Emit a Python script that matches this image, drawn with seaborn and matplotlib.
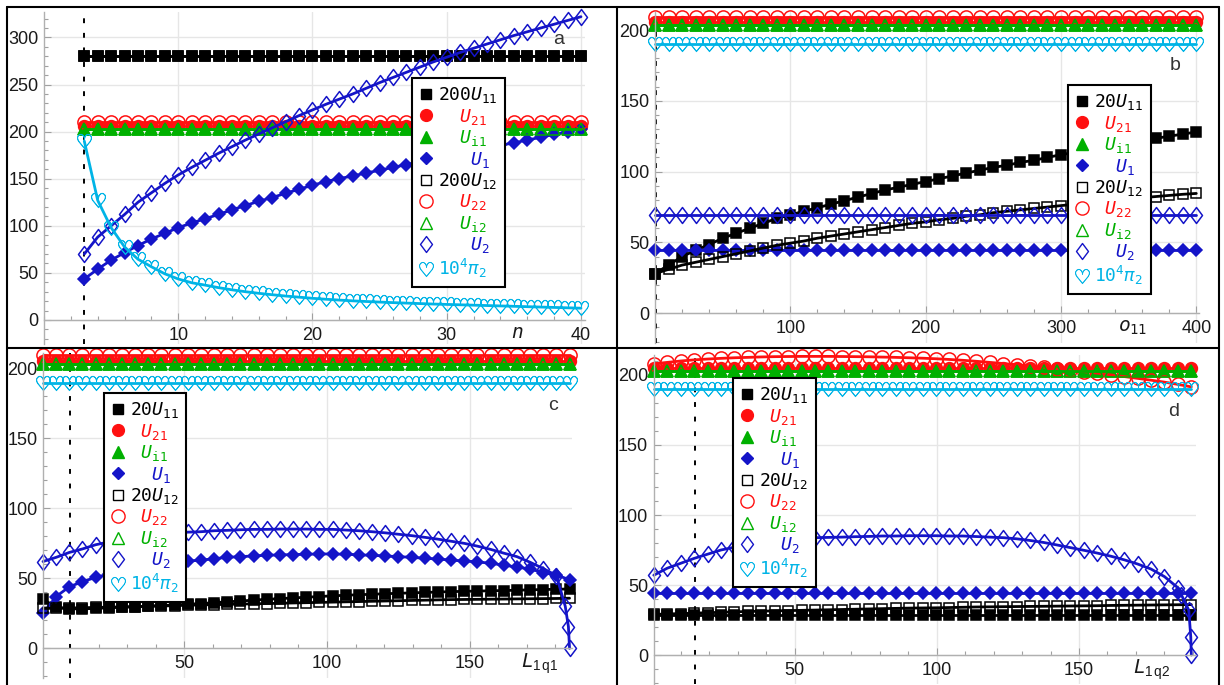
import numpy as np
import matplotlib
matplotlib.use("Agg")
import matplotlib.pyplot as plt
import seaborn as sns
from matplotlib.lines import Line2D
from matplotlib.path import Path
from matplotlib.ticker import MultipleLocator

# -----------------------------
# Data
# -----------------------------
# panel a : parameter n
n_a = list(range(3, 41))
a_200U11 = 280
a_200U12 = 280
a_U21 = 206
a_U22 = 210
a_Ui1 = 203
a_Ui2 = 203
a_U1 = [43.5, 54, 63.5, 71.5, 79, 86, 92, 98, 103, 107.5,
        112, 117, 121.5, 126, 130, 134.5, 138.8, 143, 147, 150,
        153, 156, 159, 162, 165, 168, 171, 174, 177, 180,
        183, 185.5, 188, 191, 194, 197, 200, 203]
a_U2 = [70, 88, 100, 112, 125, 135, 145, 154, 162, 169.5,
        177, 184, 191, 197.5, 204, 210.5, 217, 223, 229, 234.5,
        240, 246, 252, 257.5, 263, 268.5, 274, 279, 284, 288.5,
        293, 297.5, 302, 306, 310, 314, 318, 322]
a_pi2 = [190, 127, 98, 77.5, 64.5, 56.5, 49, 43.5, 39.5, 37,
         34.3, 32, 30, 28.3, 26.8, 25.4, 24.2, 23, 22, 21.1,
         20.3, 19.6, 19, 18.4, 17.9, 17.4, 16.9, 16.5, 16.1, 15.7,
         15.3, 14.9, 14.5, 14.1, 13.7, 13.3, 12.9, 12.5]

# panel b : parameter o11
o_b = list(range(0, 401, 10))
b_20U11 = [28, 34, 40, 44.5, 48.5, 53, 56.5, 60, 63.5, 67,
           69.5, 72, 74.5, 77, 79.5, 82, 84.5, 87, 89, 91,
           93, 95, 97, 99, 101, 103, 104.5, 106.5, 108, 110,
           112, 113.5, 115, 117, 118.5, 120, 122, 123.5, 125, 126.5,
           128]
b_20U12 = [28, 31, 34, 36, 38, 40, 42, 44, 46, 48,
           49.5, 51, 53, 54.5, 56, 57.5, 59, 60.5, 62, 63.5,
           64.5, 66, 67, 68.5, 69.5, 71, 72, 73, 74, 75,
           76, 77, 78, 79, 80, 80.8, 81.6, 82.4, 83.2, 84,
           84.6]
b_U21 = 205.5
b_U22 = 209.5
b_Ui = 203.5
b_U1 = 44.5
b_U2 = 69.5
b_pi2 = 190

# panel c : parameter L1q1
L_c = np.linspace(0.5, 185, 41)
c_U2_tail_L = [183.5, 184.6, 185]
c_U2 = [62, 65, 68.5, 71, 74, 76, 77.8, 79.3, 80.5, 81.5,
        82.3, 83, 83.3, 84, 84.3, 84.7, 85, 85, 85.2, 85.2,
        85.2, 85, 85, 84.5, 84, 83.3, 82.5, 81.5, 80.5, 79.3,
        78, 76.5, 75, 73, 70.7, 68, 65.5, 61.5, 57, 52,
        30, 15.5, 0]
c_U1 = [25, 37, 44, 47.6, 50.7, 53, 55.5, 57.5, 59, 60.5,
        61.5, 62.3, 63, 64, 65, 65.5, 66, 66.5, 66.7, 67,
        67.2, 67.4, 67.4, 67.2, 66.8, 66.4, 66, 65.5, 65, 64.3,
        63.8, 63, 62.4, 61.8, 60.7, 59.5, 58, 56.7, 54, 52.4,
        49]
c_20U11 = [35, 29.5, 28.2, 28.2, 28.5, 29, 29.3, 29.7, 30.2, 30.6,
           31, 31.5, 32, 32.6, 33.2, 33.8, 34.4, 35, 35.5, 36,
           36.5, 37, 37.5, 37.9, 38.3, 38.6, 39, 39.3, 39.6, 39.9,
           40.2, 40.5, 40.7, 40.9, 41.1, 41.3, 41.5, 41.8, 42, 42.2,
           42.4]
c_20U12 = [28.5, 28.6, 28.8, 29, 29.2, 29.4, 29.6, 29.8, 30, 30.2,
           30.5, 30.8, 31, 31.2, 31.4, 31.6, 31.8, 32, 32.2, 32.4,
           32.6, 32.8, 33, 33.2, 33.4, 33.6, 33.8, 34, 34.2, 34.4,
           34.6, 34.8, 34.9, 35, 35.1, 35.2, 35.3, 35.4, 35.5, 35.6,
           35.8]
c_U21 = 205
c_U22 = 209.5
c_Ui = 203
c_pi2 = 189.5

# panel d : parameter L1q2
L_d = np.linspace(0.5, 189.5, 41)
d_U2_tail_L = [186, 188.6, 189.3, 189.5]
d_U2 = [57, 62, 65.5, 69, 72, 75, 77, 79, 80.5, 81.8,
        82.8, 83.5, 83.8, 84, 84.2, 84.5, 84.7, 85, 85, 85.2,
        85.2, 85.2, 85, 85, 84.6, 84.2, 83.8, 83, 81.8, 80.4,
        78.6, 76.7, 74.8, 72.8, 70.6, 68, 65, 61.4, 56, 48,
        43, 32, 13, 0]
d_20U12 = [29, 29.3, 29.6, 29.9, 30.2, 30.5, 30.8, 31.1, 31.3, 31.5,
           31.7, 31.9, 32.1, 32.3, 32.5, 32.7, 32.9, 33.1, 33.3, 33.5,
           33.6, 33.7, 33.9, 34.1, 34.3, 34.4, 34.5, 34.6, 34.7, 34.8,
           34.9, 35, 35.1, 35.2, 35.4, 35.5, 35.6, 35.7, 35.8, 35.9,
           36]
d_U22 = [208, 209, 210, 210.8, 211.4, 211.9, 212.3, 212.6, 212.9, 213.1,
         213.2, 213.3, 213.3, 213.3, 213.2, 213.1, 213, 212.8, 212.6, 212.3,
         212, 211.6, 211.1, 210.5, 209.8, 209, 208.2, 207.3, 206.4, 205.5,
         204.5, 203.5, 202.4, 201.3, 200.1, 198.9, 197.6, 196.3, 194.9, 193.3,
         191.5]
d_20U11 = 28.5
d_U21 = 205
d_Ui = 203
d_U1 = 44.5
d_pi2 = 190

# -----------------------------
# Style
# -----------------------------
sns.set_theme(style="white")
plt.rcParams["font.family"] = ["Liberation Sans", "DejaVu Sans"]
plt.rcParams["mathtext.fontset"] = "custom"
plt.rcParams["mathtext.rm"] = "DejaVu Sans Mono"
plt.rcParams["mathtext.it"] = "DejaVu Sans Mono:italic"
plt.rcParams["mathtext.bf"] = "DejaVu Sans Mono:bold"
plt.rcParams["mathtext.sf"] = "Liberation Sans"

BLACK = "black"
RED = "#ff1010"
GREEN = "#00b000"
BLUE = "#1414c8"
CYAN = "#00b4e6"
HEART = r"$\heartsuit$"
# slightly tall open diamond, like the reference
DIAMOND = Path([(0, 1), (0.75, 0), (0, -1), (-0.75, 0), (0, 1)], closed=True)

# marker look: (marker, filled, size)
M_20U11 = ("s", True, 6.5)
M_U21 = ("o", True, 8.5)
M_Ui1 = ("^", True, 8)
M_U1 = ("D", True, 6.5)
M_20U12 = ("s", False, 6.5)
M_U22 = ("o", False, 9.5)
M_Ui2 = ("^", False, 8)
M_U2 = (DIAMOND, False, 11.5)
M_PI2 = (HEART, True, 10.5)

W, H = 1224, 685
fig = plt.figure(figsize=(W / 100, H / 100), dpi=100)


def add_panel(left, right, top, bottom):
    return fig.add_axes([left / W, 1 - bottom / H, (right - left) / W, (bottom - top) / H])


def edge_width(marker):
    return 0.5 if isinstance(marker, str) and marker == HEART else 1.1


def series(ax, x, y, color, spec, lw=2.0):
    marker, filled, ms = spec
    if np.ndim(y) == 0:
        y = [y] * len(x)
    sns.lineplot(x=list(x), y=list(y), ax=ax, color=color, lw=lw,
                 marker=marker, markersize=ms,
                 markerfacecolor=color if filled else "none",
                 markeredgecolor=color, markeredgewidth=edge_width(marker),
                 sort=False, estimator=None, clip_on=False)


def style_axes(ax, xlim, ylim, xticks, yticks, xminor, yminor):
    ax.set_xlim(*xlim)
    ax.set_ylim(*ylim)
    ax.set_xticks(xticks)
    ax.set_yticks(yticks)
    ax.xaxis.set_minor_locator(MultipleLocator(xminor))
    ax.yaxis.set_minor_locator(MultipleLocator(yminor))
    ax.spines["top"].set_visible(False)
    ax.spines["right"].set_visible(False)
    ax.spines["bottom"].set_position(("data", 0))
    for s in ("left", "bottom"):
        ax.spines[s].set_color("#b0b0b0")
        ax.spines[s].set_linewidth(1.0)
    ax.grid(True, which="major", color="#e6e6e6", lw=1.0)
    ax.set_axisbelow(True)
    ax.tick_params(which="both", direction="in", color="#a0a0a0", width=0.8,
                   labelsize=13, labelcolor="#1a1a1a", left=True, bottom=True)
    ax.tick_params(which="major", length=5)
    ax.tick_params(which="minor", length=3)
    ax.tick_params(axis="x", pad=5)
    ax.tick_params(axis="y", pad=4)
    ax.set_xlabel("")
    ax.set_ylabel("")
    ax.patch.set_alpha(0)


def add_legend(ax, top_left, big):
    k = "200" if big else "20"
    sp = "  " if big else " "
    labels = [k + r"$U_{11}$", sp + r"$U_{21}$", sp + r"$U_{\mathrm{i1}}$", sp + " " + r"$U_{1}$",
              k + r"$U_{12}$", sp + r"$U_{22}$", sp + r"$U_{\mathrm{i2}}$", sp + " " + r"$U_{2}$",
              r"10$^4\pi_2$"]
    colors = [BLACK, RED, GREEN, BLUE, BLACK, RED, GREEN, BLUE, CYAN]
    specs = [M_20U11, M_U21, M_Ui1, M_U1, M_20U12, M_U22, M_Ui2, M_U2, M_PI2]
    handles = []
    for (m, f, ms), c in zip(specs, colors):
        handles.append(Line2D([], [], ls="none", marker=m, markersize=ms, color=c,
                              markerfacecolor=c if f else "none",
                              markeredgecolor=c, markeredgewidth=edge_width(m) - 0.1))
    leg = ax.legend(handles, labels, loc="upper left",
                    bbox_to_anchor=(top_left[0] / W, 1 - top_left[1] / H),
                    bbox_transform=fig.transFigure, borderaxespad=0,
                    prop={"family": "DejaVu Sans Mono", "size": 13},
                    handlelength=0.8, handletextpad=0.25, borderpad=0.4,
                    labelspacing=0.08, fancybox=False, framealpha=1,
                    edgecolor="black")
    leg.get_frame().set_linewidth(1.5)
    for t, c in zip(leg.get_texts(), colors):
        t.set_color(c)
    return leg


def fig_text(x, y, s, **kw):
    fig.text(x / W, 1 - y / H, s, ha="center", va="center", **kw)


def draw_panel(ax, x, cols, x_u2, u2):
    # cols: 20U11, U21, Ui1, U1, 20U12, U22, Ui2, pi2
    series(ax, x, cols[0], BLACK, M_20U11)
    series(ax, x, cols[1], RED, M_U21)
    series(ax, x, cols[2], GREEN, M_Ui1)
    series(ax, x, cols[3], BLUE, M_U1)
    series(ax, x, cols[4], BLACK, M_20U12)
    series(ax, x, cols[5], RED, M_U22)
    series(ax, x, cols[6], GREEN, M_Ui2)
    series(ax, x_u2, u2, BLUE, M_U2)
    series(ax, x, cols[7], CYAN, M_PI2)


dash = (0, (2.5, 5))

# -----------------------------
# Panel a
# -----------------------------
ax = add_panel(44, 585, 12, 343.5)
style_axes(ax, (0, 40.3), (-25, 327), [10, 20, 30, 40], range(0, 301, 50), 2, 10)
ax.axvline(3, color="black", lw=1.4, ls=dash, zorder=1)
draw_panel(ax, n_a, [a_200U11, a_U21, a_Ui1, a_U1, a_200U12, a_U22, a_Ui2, a_pi2], n_a, a_U2)
add_legend(ax, (412, 78), big=True)

# -----------------------------
# Panel b
# -----------------------------
ax = add_panel(655, 1199, 12.3, 343)
style_axes(ax, (0, 402), (-21, 212.5), [100, 200, 300, 400], range(0, 201, 50), 20, 10)
ax.axvline(0.5, color="black", lw=1.4, ls=dash, zorder=1)
draw_panel(ax, o_b, [b_20U11, b_U21, b_Ui, b_U1, b_20U12, b_U22, b_Ui, b_pi2], o_b, b_U2)
add_legend(ax, (1068, 85), big=False)

# -----------------------------
# Panel c
# -----------------------------
ax = add_panel(43, 572.4, 353, 677.7)
style_axes(ax, (0.5, 186), (-21, 211), [50, 100, 150], range(0, 201, 50), 10, 10)
ax.axvline(10, color="black", lw=1.4, ls=dash, zorder=1)
draw_panel(ax, L_c, [c_20U11, c_U21, c_Ui, c_U1, c_20U12, c_U22, c_Ui, c_pi2],
           list(L_c[:40]) + c_U2_tail_L, c_U2)
add_legend(ax, (103.5, 393), big=False)

# -----------------------------
# Panel d
# -----------------------------
ax = add_panel(653.8, 1195.6, 355.4, 684.4)
style_axes(ax, (0.5, 191), (-21, 214), [50, 100, 150], range(0, 201, 50), 10, 10)
ax.axvline(15, color="black", lw=1.4, ls=dash, zorder=1)
draw_panel(ax, L_d, [d_20U11, d_U21, d_Ui, d_U1, d_20U12, d_U22, d_Ui, d_pi2],
           list(L_d[:40]) + d_U2_tail_L, d_U2)
add_legend(ax, (733, 378), big=False)

# -----------------------------
# Axis labels and panel letters
# -----------------------------
fig_text(517, 334, r"$n$", fontsize=14, color="#1a1a1a")
fig_text(1133, 328, r"$o_{11}$", fontsize=14, color="#1a1a1a")
fig_text(540, 664, r"$L_{\mathsf{1\,q1}}$", fontsize=14, color="#1a1a1a")
fig_text(1152, 670, r"$L_{\mathsf{1\,q2}}$", fontsize=14, color="#1a1a1a")
for x, y, s in [(559, 39, "a"), (1175, 66, "b"), (553, 405, "c"), (1174, 412, "d")]:
    fig_text(x, y, s, fontsize=14, color="#333333")

# panel frame lines
for (x0, y0, x1, y1) in [(7, 7, 1219, 7), (7, 7, 7, 685), (1219, 7, 1219, 685),
                         (617, 7, 617, 685), (7, 348, 1219, 348)]:
    fig.add_artist(Line2D([x0 / W, x1 / W], [1 - y0 / H, 1 - y1 / H],
                          color="black", lw=1.5, transform=fig.transFigure))

plt.savefig("out.png", dpi=100)
plt.close()
